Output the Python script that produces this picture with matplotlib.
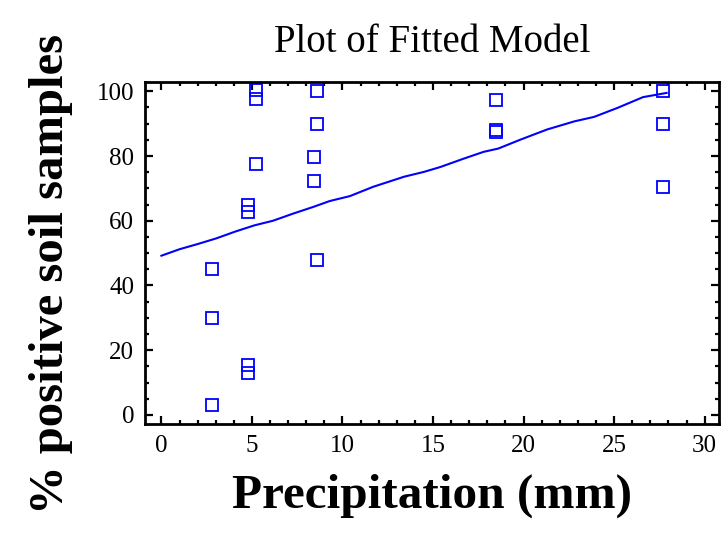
import matplotlib
matplotlib.use("Agg")
import matplotlib.pyplot as plt
from matplotlib.ticker import MultipleLocator

plt.rcParams['font.family'] = ['Liberation Serif', 'DejaVu Serif']

# observed data
precip = [2.8, 2.8, 2.8, 4.8, 4.8, 4.8, 4.8, 5.2, 5.2, 5.2,
          8.4, 8.4, 8.6, 8.6, 8.6, 18.5, 18.5, 18.5, 27.7, 27.7, 27.7]
positive = [45, 30, 3, 65, 62.8, 15.3, 12.9, 100.5, 97.5, 77.5,
            79.8, 72.2, 100.2, 89.9, 47.8, 97.3, 88.0, 87.3, 100.2, 89.8, 70.3]

# fitted model curve
fit_x = [0, 1.0, 2.0, 3.0, 4.1, 5.15, 6.16, 7.27, 8.4, 9.3, 10.4, 11.7, 13.4,
         14.5, 15.4, 16.7, 17.8, 18.6, 19.8, 21.3, 22.8, 23.9, 25.2, 26.6, 27.9]
fit_y = [49.2, 51.2, 52.8, 54.5, 56.7, 58.6, 60.0, 62.2, 64.3, 66.1, 67.6, 70.5, 73.6,
         75.1, 76.6, 79.2, 81.3, 82.3, 85.0, 88.2, 90.7, 92.1, 94.9, 98.2, 99.5]

x_ticks = [0, 5, 10, 15, 20, 25, 30]
y_ticks = [0, 20, 40, 60, 80, 100]

fig = plt.figure(figsize=(7.22, 5.34), dpi=100)
ax = fig.add_axes([0.201, 0.206, 0.795, 0.640])

ax.plot(fit_x, fit_y, color='#0000ff', lw=1.5)
ax.plot(precip, positive, linestyle='none', marker='s', markersize=9.3,
        markerfacecolor='none', markeredgecolor='#0000ff', markeredgewidth=1.3)

ax.set_xlim(-0.9, 30.8)
ax.set_ylim(-2.8, 102.8)
ax.set_xticks(x_ticks)
ax.set_yticks(y_ticks)
ax.xaxis.set_minor_locator(MultipleLocator(1))
ax.yaxis.set_minor_locator(MultipleLocator(5))
ax.tick_params(which='both', direction='in', top=True, right=True, width=1.6,
               labelsize=18, colors='black')
ax.tick_params(which='major', length=6, pad=8)
ax.tick_params(which='minor', length=3.2)
for s in ax.spines.values():
    s.set_linewidth(2)

ax.set_title('Plot of Fitted Model', fontsize=28, pad=22)
ax.set_xlabel('Precipitation (mm)', fontsize=35.5, fontweight='bold', labelpad=12)
ax.set_ylabel('% positive soil samples', fontsize=35, fontweight='bold')
ax.yaxis.set_label_coords(-0.125, 0.439)

fig.savefig('out.png', dpi=100)
